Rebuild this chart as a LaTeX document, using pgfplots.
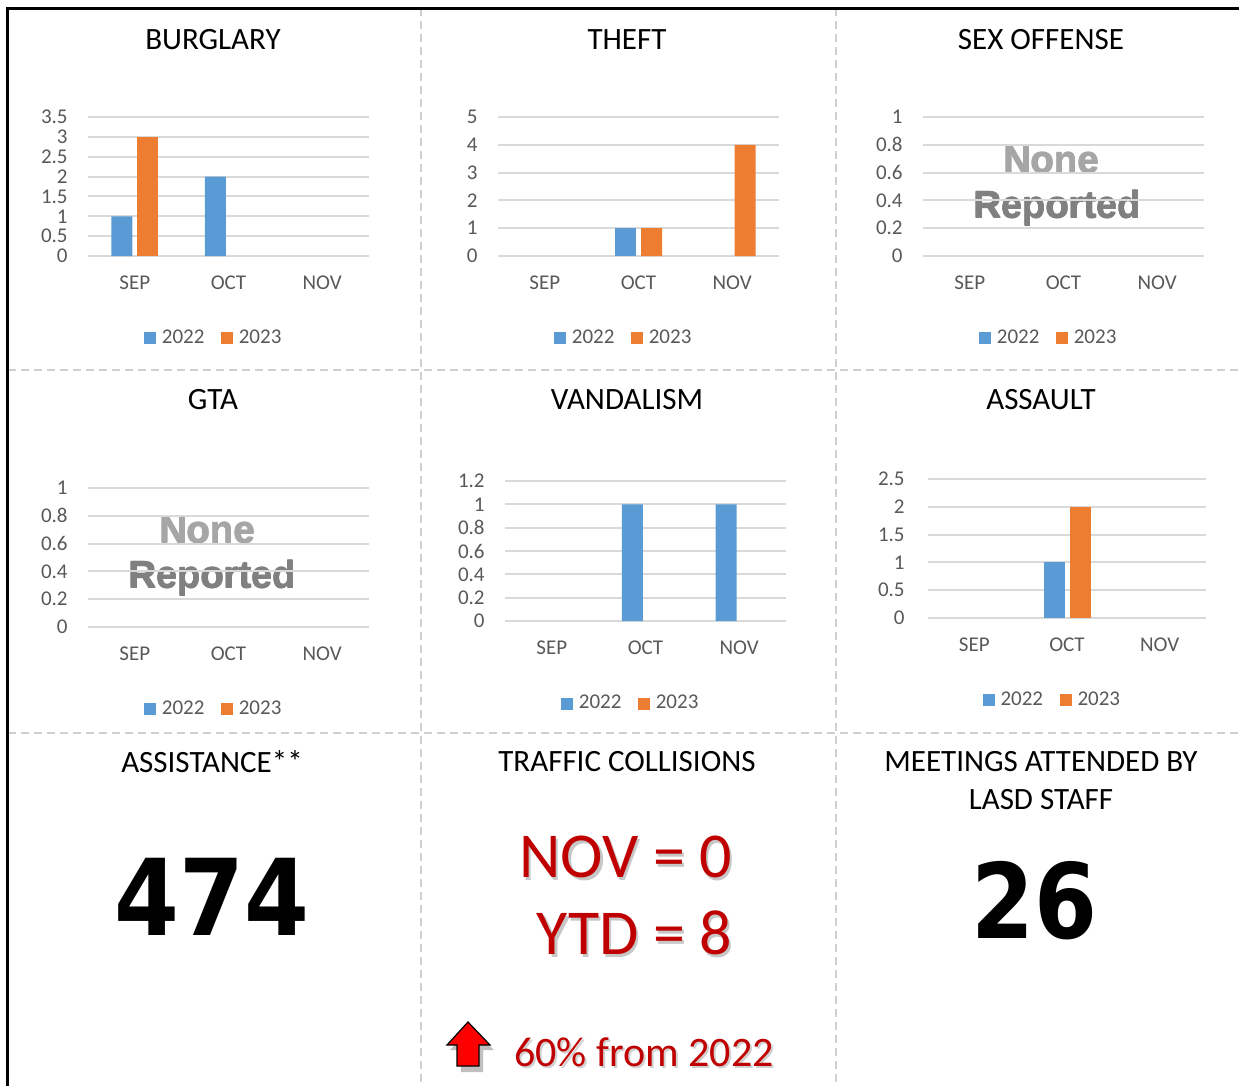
\documentclass[border=0pt]{standalone}
\usepackage{fontspec}
\setmainfont{Carlito}
\newfontfamily\dejavu{DejaVu Sans}
\newfontfamily\libsans{Liberation Sans}
\usepackage{pgfplots}
\pgfplotsset{compat=1.18}
\definecolor{blueC}{HTML}{5B9BD5}
\definecolor{orangeC}{HTML}{ED7D31}
\definecolor{gridC}{HTML}{D9D9D9}
\definecolor{tickC}{HTML}{595959}
\definecolor{redC}{HTML}{C00000}
\definecolor{dashC}{HTML}{CFCFCF}
\newcommand\tickfont{\fontsize{10.5pt}{12pt}\selectfont}
\newcommand\titlefont{\fontsize{15.5pt}{18pt}\selectfont}
\newcommand\nonefont{\libsans\bfseries\fontsize{19pt}{22pt}\selectfont}
\pgfplotsset{
  crimeaxis/.style={
    scale only axis, height=69.5pt, width=140.5pt,
    xmin=-0.5, xmax=2.5, ymin=0,
    xtick={0,1,2}, xticklabels={SEP,OCT,NOV},
    axis line style={draw=none}, major tick length=0pt, tick style={draw=none},
    ymajorgrids, grid style={gridC, line width=1pt},
    ybar, bar width=10.5pt,
    ticklabel style={font=\tickfont, text=tickC},
    yticklabel style={anchor=east, inner sep=0pt, xshift=-10pt},
    xticklabel style={anchor=center, inner sep=0pt, yshift=-13.5pt},
    legend style={draw=none, fill=none, legend columns=2, at={(0.45,-0.59)}, anchor=center,
      font=\tickfont, text=tickC, inner sep=0pt,
      nodes={inner sep=1.5pt},
      /tikz/every odd column/.append style={column sep=1.2pt},
      /tikz/every even column/.append style={column sep=7pt}},
    legend image code/.code={\fill[##1] (0pt,-3pt) rectangle (6pt,3pt);},
    clip=false,
  },
  b22/.style={fill=blueC, draw=none, bar shift=-6.5pt},
  b23/.style={fill=orangeC, draw=none, bar shift=6.5pt},
}
\begin{document}
\begin{tikzpicture}
\begin{scope}[x=0.5pt,y=-0.5pt]
  \fill[white] (0,0) rectangle (1239,1086);
  % dashed separators
  \draw[dashC, line width=1pt, dash pattern=on 4pt off 2.5pt] (421,8) -- (421,1086);
  \draw[dashC, line width=1pt, dash pattern=on 4pt off 2.5pt] (836,8) -- (836,1086);
  \draw[dashC, line width=1pt, dash pattern=on 4pt off 2.5pt] (8,370) -- (1239,370);
  \draw[dashC, line width=1pt, dash pattern=on 4pt off 2.5pt] (8,733) -- (1239,733);
  % black border
  \draw[black, line width=1.5pt] (7.5,1086) -- (7.5,8.5) -- (1239,8.5);
  % axis anchors
  \coordinate (A1) at (88,256);
  \coordinate (A2) at (498,256);
  \coordinate (A3) at (923,256);
  \coordinate (A4) at (88,627);
  \coordinate (A5) at (505,621);
  \coordinate (A6) at (928,618);
  % titles
  \node[font=\titlefont] at (213,40) {BURGLARY};
  \node[font=\titlefont] at (627,40) {THEFT};
  \node[font=\titlefont] at (1041,40) {SEX OFFENSE};
  \node[font=\titlefont] at (213,400) {GTA};
  \node[font=\titlefont] at (627,400) {VANDALISM};
  \node[font=\titlefont] at (1041,400) {ASSAULT};
  \node[font=\titlefont] at (212,762) {ASSISTANCE**};
  \node[font=\titlefont] at (627,762) {TRAFFIC COLLISIONS};
  \node[font=\titlefont] at (1041,762) {MEETINGS ATTENDED BY};
  \node[font=\titlefont] at (1041,800) {LASD STAFF};
  % big numbers
  \node[font=\dejavu\bfseries\fontsize{53pt}{60pt}\selectfont, xscale=0.88] at (212,897) {474};
  \node[font=\dejavu\bfseries\fontsize{52pt}{60pt}\selectfont, xscale=0.87] at (1034,901) {26};
  % traffic collisions
  \node[font=\fontsize{32pt}{36pt}\selectfont, text=black!22, anchor=east] at (741.5,859.5) {NOV = 0};
  \node[font=\fontsize{32pt}{36pt}\selectfont, text=redC, anchor=east] at (739,857) {NOV = 0};
  \node[font=\fontsize{32pt}{36pt}\selectfont, text=black!22, anchor=east] at (741.5,935.5) {YTD = 8};
  \node[font=\fontsize{32pt}{36pt}\selectfont, text=redC, anchor=east] at (739,933) {YTD = 8};
  \node[font=\fontsize{21pt}{24pt}\selectfont, text=black!18] at (646,1054) {60\% from 2022};
  \node[font=\fontsize{21pt}{24pt}\selectfont, text=redC] at (644,1052) {60\% from 2022};
  % arrow
  \fill[black!25] (471,1027) -- (494,1050) -- (483,1050) -- (483,1072) -- (461,1072) -- (461,1050) -- (450,1050) -- cycle;
  \filldraw[fill=red, draw=black, line width=0.6pt] (468,1022) -- (490,1045) -- (479,1045) -- (479,1066) -- (457,1066) -- (457,1045) -- (447,1045) -- cycle;
  % None reported
  \foreach \dx/\dy in {0/0,0.8/0,0/0.8,0.8/0.8}{
    \node[font=\nonefont, text=black!35] at (1051+\dx,160+\dy) {None};
    \node[font=\nonefont, text=black!50] at (1057+\dx,208+\dy) {Reported};
    \node[font=\nonefont, text=black!35] at (207+\dx,530+\dy) {None};
    \node[font=\nonefont, text=black!50] at (212+\dx,578+\dy) {Reported};
  }
\end{scope}

% BURGLARY
\begin{axis}[crimeaxis, at={(A1)}, anchor=south west, ymax=3.5,
  ytick={0,0.5,1,1.5,2,2.5,3,3.5}, yticklabels={0,0.5,1,1.5,2,2.5,3,3.5}]
  \addplot[b22] coordinates {(0,1) (1,2)};
  \addplot[b23] coordinates {(0,3)};
  \legend{2022,2023}
\end{axis}

% THEFT
\begin{axis}[crimeaxis, at={(A2)}, anchor=south west, ymax=5,
  ytick={0,1,2,3,4,5}, yticklabels={0,1,2,3,4,5}]
  \addplot[b22] coordinates {(1,1)};
  \addplot[b23] coordinates {(1,1) (2,4)};
  \legend{2022,2023}
\end{axis}

% SEX OFFENSE
\begin{axis}[crimeaxis, at={(A3)}, anchor=south west, ymax=1,
  ytick={0,0.2,0.4,0.6,0.8,1}, yticklabels={0,0.2,0.4,0.6,0.8,1}]
  \addlegendimage{b22}
  \addlegendimage{b23}
  \legend{2022,2023}
\end{axis}

% GTA
\begin{axis}[crimeaxis, at={(A4)}, anchor=south west, ymax=1,
  ytick={0,0.2,0.4,0.6,0.8,1}, yticklabels={0,0.2,0.4,0.6,0.8,1}]
  \addlegendimage{b22}
  \addlegendimage{b23}
  \legend{2022,2023}
\end{axis}

% VANDALISM
\begin{axis}[crimeaxis, at={(A5)}, anchor=south west, ymax=1.2, height=70pt,
  ytick={0,0.2,0.4,0.6,0.8,1,1.2}, yticklabels={0,0.2,0.4,0.6,0.8,1,1.2}]
  \addplot[b22] coordinates {(1,1) (2,1)};
  \addlegendimage{b23}
  \legend{2022,2023}
\end{axis}

% ASSAULT
\begin{axis}[crimeaxis, at={(A6)}, anchor=south west, ymax=2.5, width=139pt,
  ytick={0,0.5,1,1.5,2,2.5}, yticklabels={0,0.5,1,1.5,2,2.5},
  yticklabel style={xshift=-1.5pt}]
  \addplot[b22] coordinates {(1,1)};
  \addplot[b23] coordinates {(1,2)};
  \legend{2022,2023}
\end{axis}

\pgfresetboundingbox
\path[x=0.5pt,y=-0.5pt] (0,0) rectangle (1239,1086);
\end{tikzpicture}
\end{document}
